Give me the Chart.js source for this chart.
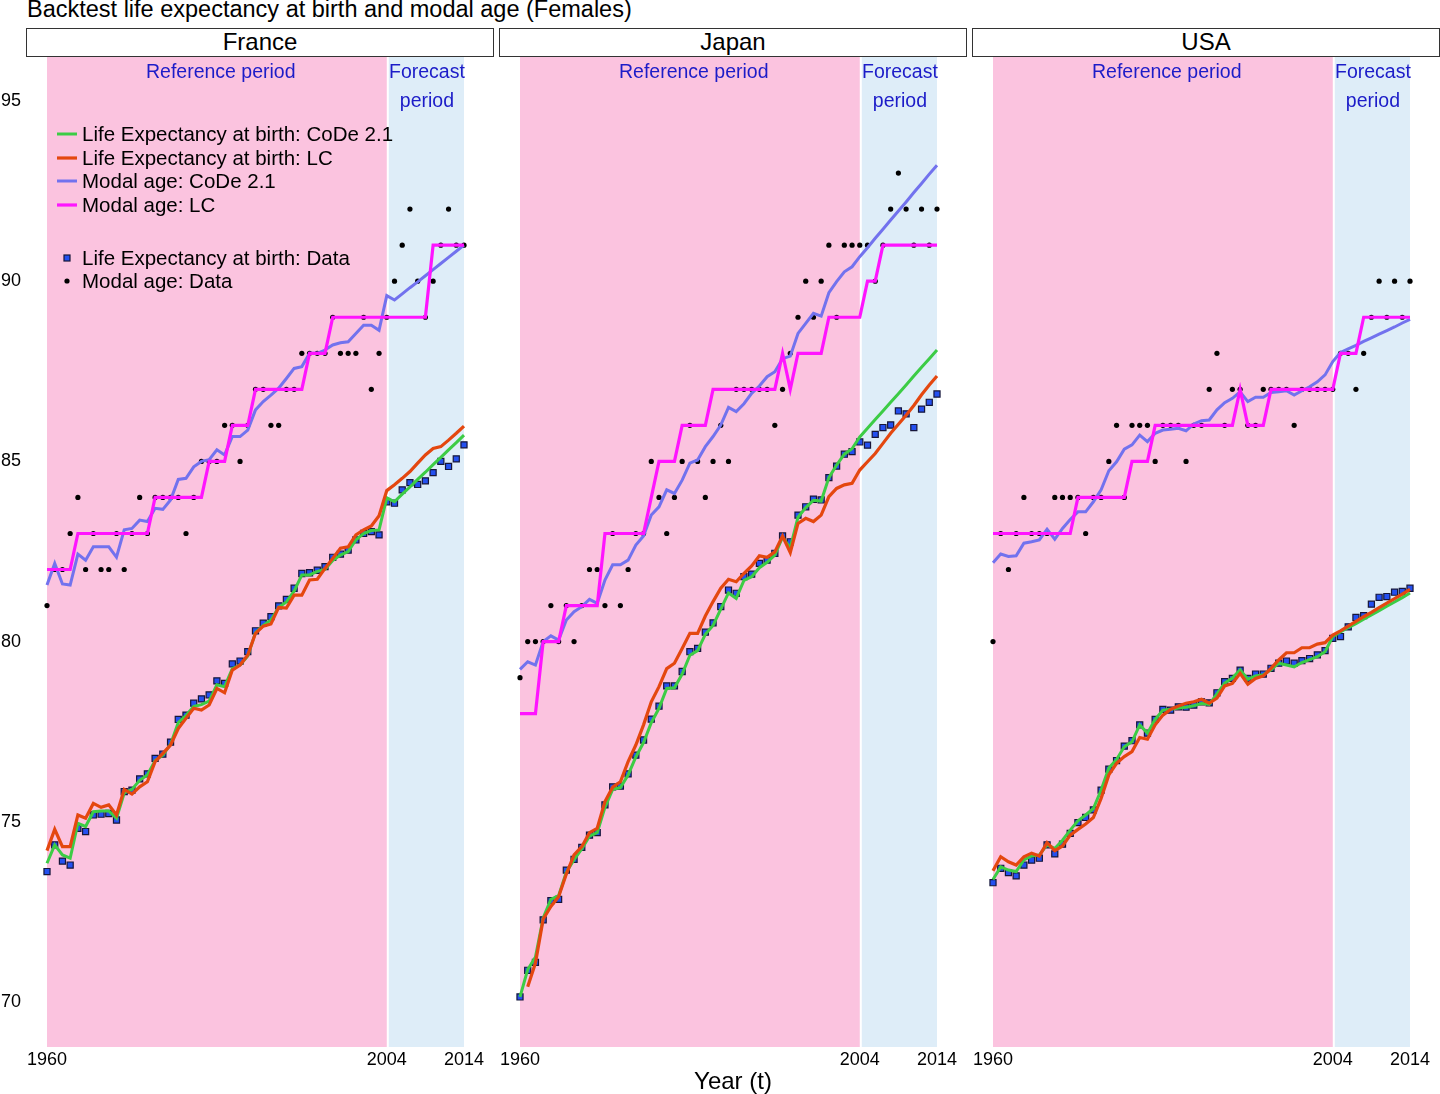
<!DOCTYPE html>
<html><head><meta charset="utf-8">
<script src="https://cdn.jsdelivr.net/npm/chart.js@4.4.1/dist/chart.umd.min.js"></script>
<style>
html,body{margin:0;padding:0;background:#fff;width:1440px;height:1094px;overflow:hidden;font-family:'Liberation Sans',Arial,sans-serif;}
.abs{position:absolute;}
#title{left:27px;top:-4px;font-size:23.5px;color:#000;white-space:nowrap;}
.strip{top:28px;height:29px;width:468px;box-sizing:border-box;border:1.5px solid #333;background:#fff;text-align:center;font-size:24px;line-height:26px;color:#000;}
.panel{top:0;width:520px;height:1094px;}
#xlab{left:633px;width:200px;text-align:center;top:1067px;font-size:24px;color:#000;}
</style></head><body>
<div id="title" class="abs">Backtest life expectancy at birth and modal age (Females)</div>
<div class="abs strip" style="left:26px">France</div>
<div class="abs strip" style="left:499px">Japan</div>
<div class="abs strip" style="left:972px">USA</div>
<div class="abs panel" style="left:0px"><canvas id="c0" width="520" height="1094"></canvas></div>
<div class="abs panel" style="left:473px"><canvas id="c1" width="520" height="1094"></canvas></div>
<div class="abs panel" style="left:946px"><canvas id="c2" width="520" height="1094"></canvas></div>
<div id="xlab" class="abs">Year (t)</div>
<script>
const years = [1960,1961,1962,1963,1964,1965,1966,1967,1968,1969,
1970,1971,1972,1973,1974,1975,1976,1977,1978,1979,
1980,1981,1982,1983,1984,1985,1986,1987,1988,1989,
1990,1991,1992,1993,1994,1995,1996,1997,1998,1999,
2000,2001,2002,2003,2004,2005,2006,2007,2008,2009,
2010,2011,2012,2013,2014];
const xTicks = [1960, 2004, 2014];
const yTicks = [70, 75, 80, 85, 90, 95];
const countries = ['France', 'Japan', 'USA'];

// ---- France ----
const frLeData = [73.62,74.36,73.91,73.80,74.82,74.73,75.19,75.21,75.23,75.05,
75.84,75.88,76.19,76.33,76.76,76.88,77.21,77.84,77.96,78.29,
78.41,78.52,78.91,78.84,79.38,79.46,79.72,80.30,80.51,80.69,
80.99,81.17,81.48,81.89,81.91,81.98,82.08,82.34,82.43,82.54,
82.82,83.00,83.05,82.96,83.88,83.84,84.21,84.41,84.36,84.46,
84.69,85.00,84.86,85.07,85.46];
const frLeCode = [73.85,74.36,74.08,73.99,74.96,74.87,75.28,75.30,75.30,75.10,
75.80,75.90,76.15,76.30,76.70,76.85,77.15,77.75,77.95,78.20,
78.25,78.35,78.80,78.75,79.25,79.35,79.60,80.25,80.45,80.60,
80.95,81.10,81.40,81.85,81.85,81.95,82.00,82.25,82.40,82.50,
82.82,83.00,83.08,83.10,83.99,83.88,84.09,84.29,84.50,84.70,
84.91,85.11,85.32,85.52,85.73];
const frLeLc = [74.20,74.79,74.31,74.31,75.19,75.10,75.51,75.40,75.47,75.19,
75.90,75.77,75.97,76.11,76.67,76.90,77.13,77.59,77.87,78.15,
78.10,78.24,78.70,78.58,79.21,79.35,79.63,80.23,80.43,80.49,
80.95,80.93,81.29,81.29,81.71,81.73,82.03,82.31,82.59,82.63,
82.96,83.10,83.21,83.49,84.19,84.35,84.53,84.72,84.95,85.18,
85.36,85.41,85.59,85.78,85.98];
const frModalData = [81,82,82,83,84,82,83,82,82,83,
82,83,84,83,84,84,84,84,83,84,
85,85,85,86,86,85,86,87,87,86,
86,87,87,88,88,88,88,89,88,88,
88,89,87,88,89,90,91,92,90,89,
90,91,92,91,91];
const frModalLc = [82,82,82,82,83,83,83,83,83,83,
83,83,83,83,84,84,84,84,84,84,
84,85,85,85,86,86,86,87,87,87,
87,87,87,87,88,88,88,89,89,89,
89,89,89,89,89,89,89,89,89,89,
91,91,91,91,91];
const frModalCode = [81.57,82.17,81.60,81.57,82.43,82.26,82.63,82.63,82.63,82.34,
83.10,83.14,83.37,83.33,83.70,83.67,83.93,84.50,84.53,84.85,
85.00,85.05,85.32,85.18,85.69,85.69,85.87,86.43,86.66,86.84,
87.03,87.30,87.58,87.63,88.00,88.00,88.09,88.23,88.29,88.32,
88.55,88.78,88.78,88.64,89.60,89.48,89.65,89.82,89.98,90.15,
90.32,90.49,90.66,90.83,91.00];

// ---- Japan ----
const jpLeData = [70.14,70.88,71.10,72.28,72.81,72.85,73.66,73.96,74.29,74.63,
74.70,75.47,75.97,75.99,76.33,76.85,77.27,77.85,78.21,78.77,
78.77,79.17,79.72,79.81,80.26,80.52,80.97,81.43,81.34,81.80,
81.87,82.17,82.26,82.45,82.93,82.77,83.51,83.74,83.95,83.93,
84.55,84.87,85.20,85.27,85.54,85.45,85.75,85.94,86.01,86.40,
86.32,85.94,86.45,86.64,86.87];
const jpLeCode = [70.14,70.90,71.25,72.33,72.85,72.95,73.60,73.95,74.25,74.60,
74.70,75.40,75.90,75.95,76.30,76.80,77.20,77.75,78.15,78.70,
78.72,79.10,79.62,79.75,80.20,80.45,80.90,81.35,81.20,81.70,
81.80,82.05,82.20,82.40,82.90,82.60,83.45,83.72,83.92,83.90,
84.55,84.90,85.20,85.35,85.68,85.92,86.16,86.40,86.64,86.88,
87.12,87.37,87.61,87.85,88.09];
const jpLeLc = [null,70.42,71.08,72.30,72.65,72.92,73.55,74.08,74.31,74.70,
74.82,75.56,75.96,76.11,76.67,77.13,77.69,78.33,78.75,79.25,
79.40,79.81,80.23,80.23,80.71,81.11,81.48,81.73,81.66,81.89,
82.10,82.38,82.34,82.49,82.93,82.47,83.28,83.42,83.33,83.51,
84.02,84.25,84.35,84.39,84.76,84.99,85.22,85.50,85.78,86.03,
86.28,86.55,86.85,87.12,87.37];
const jpModalData = [79,80,80,80,81,80,81,80,81,82,
82,81,83,81,82,83,83,85,84,83,
84,85,86,85,84,85,86,85,87,87,
87,87,87,86,87,88,89,90,89,90,
91,89,91,91,91,91,90,91,92,93,
92,91,92,91,92];
const jpModalLc = [78,78,78,80,80,80,81,81,81,81,
81,83,83,83,83,83,83,84,85,85,
85,86,86,86,86,87,87,87,87,87,
87,87,87,87,88,87,88,88,88,88,
89,89,89,89,89,90,90,91,91,91,
91,91,91,91,91];
const jpModalCode = [79.23,79.44,79.35,80.00,80.16,80.04,80.60,80.83,80.97,81.17,
81.06,81.71,82.13,82.13,82.26,82.68,82.93,83.51,83.74,84.21,
84.11,84.48,84.95,85.04,85.41,85.69,86.01,86.50,86.38,86.60,
86.89,87.09,87.35,87.49,87.85,87.92,88.55,88.83,89.11,89.03,
89.68,89.99,90.26,90.40,90.68,90.93,91.19,91.44,91.70,91.95,
92.20,92.46,92.71,92.97,93.22];

// ---- USA ----
const usLeData = [73.31,73.71,73.59,73.50,73.80,73.94,73.99,74.36,74.11,74.38,
74.68,74.98,75.12,75.33,75.88,76.46,76.70,77.10,77.25,77.69,
77.46,77.84,78.12,78.10,78.19,78.18,78.24,78.33,78.30,78.58,
78.89,78.98,79.21,78.98,79.10,79.10,79.26,79.40,79.46,79.40,
79.47,79.53,79.63,79.75,80.09,80.14,80.41,80.67,80.72,81.04,
81.23,81.25,81.37,81.39,81.48];
const usLeCode = [73.40,73.75,73.66,73.62,73.94,74.05,74.08,74.36,74.26,74.49,
74.77,75.03,75.19,75.37,75.88,76.49,76.73,77.08,77.22,77.69,
77.46,77.84,78.10,78.12,78.16,78.18,78.22,78.28,78.26,78.55,
78.85,78.99,79.22,78.96,79.05,79.08,79.22,79.40,79.35,79.30,
79.42,79.50,79.58,79.72,80.14,80.27,80.39,80.50,80.62,80.74,
80.86,80.98,81.10,81.22,81.35];
const usLeLc = [73.64,74.03,73.89,73.80,74.03,74.13,74.05,74.42,74.20,74.33,
74.63,74.79,74.94,75.12,75.65,76.30,76.62,76.81,76.95,77.34,
77.29,77.69,77.96,78.12,78.21,78.29,78.33,78.40,78.29,78.43,
78.77,78.84,79.12,78.82,78.98,79.05,79.26,79.49,79.69,79.69,
79.83,79.83,79.93,79.97,80.18,80.30,80.43,80.56,80.69,80.81,
80.94,81.07,81.19,81.32,81.45];
const usModalData = [80,83,82,83,84,83,83,83,84,84,
84,84,83,84,84,85,86,84,86,86,
86,85,86,86,86,85,86,86,87,88,
86,87,87,86,86,87,87,87,87,86,
87,87,87,87,87,88,88,87,88,89,
90,89,90,89,90];
const usModalLc = [83,83,83,83,83,83,83,83,83,83,
83,84,84,84,84,84,84,84,85,85,
85,86,86,86,86,86,86,86,86,86,
86,86,87,86,86,86,87,87,87,87,
87,87,87,87,87,88,88,88,89,89,
89,89,89,89,89];
const usModalCode = [82.19,82.43,82.36,82.38,82.73,82.77,82.82,83.12,82.84,83.14,
83.39,83.60,83.60,83.88,84.21,84.74,84.99,85.34,85.46,85.73,
85.55,85.78,85.87,85.89,85.92,85.85,86.04,86.13,86.15,86.43,
86.63,86.75,86.93,86.66,86.78,86.78,86.91,86.93,86.96,86.84,
86.96,87.07,87.21,87.40,87.77,88.02,88.12,88.22,88.33,88.43,
88.53,88.63,88.73,88.84,88.94];

const seriesByCountry = [
  {leData: frLeData, leCode: frLeCode, leLc: frLeLc, modalData: frModalData, modalLc: frModalLc, modalCode: frModalCode},
  {leData: jpLeData, leCode: jpLeCode, leLc: jpLeLc, modalData: jpModalData, modalLc: jpModalLc, modalCode: jpModalCode},
  {leData: usLeData, leCode: usLeCode, leLc: usLeLc, modalData: usModalData, modalLc: usModalLc, modalCode: usModalCode}
];

const FONT = "'Liberation Sans', Arial, sans-serif";
const C = {green:'#3ccc45', red:'#e4470f', blue:'#7272ee', magenta:'#ff14ff', sq:'#2450f0', sqBorder:'#16163a', dot:'#000000',
  pink:'#fbc3df', lightBlue:'#deedf8', periodText:'#1c1cc8'};

const REF_START = 1960, REF_END = 2004, FC_END = 2014;
const X_MIN = 1957.2806, X_MAX = 2017.7556, Y_MIN = 68.7514, Y_MAX = 96.2209;

const toPts = arr => years.map((yr, i) => ({x: yr, y: arr[i]}));

const bandsPlugin = {
  id: 'bands',
  beforeDatasetsDraw(chart) {
    const {ctx, chartArea: a, scales: {x, y}} = chart;
    const x0 = x.getPixelForValue(REF_START), x1 = x.getPixelForValue(REF_END), x2 = x.getPixelForValue(FC_END);
    ctx.save();
    ctx.fillStyle = C.pink;
    ctx.fillRect(x0, a.top, x1 - x0, a.bottom - a.top);
    ctx.fillStyle = C.lightBlue;
    ctx.fillRect(x1 + 2, a.top, x2 - x1 - 2, a.bottom - a.top);
    ctx.fillStyle = C.periodText;
    ctx.font = '19.5px ' + FONT;
    ctx.textAlign = 'center';
    ctx.textBaseline = 'middle';
    ctx.fillText('Reference period', x.getPixelForValue(1982.5), y.getPixelForValue(95.78));
    ctx.fillText('Forecast', x.getPixelForValue(2009.2), y.getPixelForValue(95.78));
    ctx.fillText('period', x.getPixelForValue(2009.2), y.getPixelForValue(94.98));
    ctx.restore();
  }
};

const legendRows = [
  {key: 'leCode', dy: 77}, {key: 'leLc', dy: 101}, {key: 'modalCode', dy: 124}, {key: 'modalLc', dy: 148},
  {key: 'leData', dy: 201}, {key: 'modalData', dy: 224}
];
const legendPlugin = {
  id: 'customLegend',
  afterDraw(chart, args, opts) {
    if (!opts.show) return;
    const {ctx, chartArea: a} = chart;
    ctx.save();
    ctx.font = '20.5px ' + FONT;
    ctx.textBaseline = 'middle';
    ctx.textAlign = 'left';
    legendRows.forEach(r => {
      const ds = chart.data.datasets.find(d => d.key === r.key);
      const yy = a.top + r.dy;
      const xl = a.left + 31;
      if (ds.showLine === false) {
        if (ds.pointStyle === 'rect') {
          ctx.fillStyle = ds.pointBackgroundColor;
          ctx.strokeStyle = ds.pointBorderColor;
          ctx.lineWidth = 1.2;
          ctx.fillRect(xl + 7, yy - 3, 6, 6);
          ctx.strokeRect(xl + 7, yy - 3, 6, 6);
        } else {
          ctx.fillStyle = ds.pointBackgroundColor;
          ctx.beginPath(); ctx.arc(xl + 10, yy, 2.6, 0, Math.PI * 2); ctx.fill();
        }
      } else {
        ctx.strokeStyle = ds.borderColor;
        ctx.lineWidth = ds.borderWidth;
        ctx.beginPath(); ctx.moveTo(xl, yy); ctx.lineTo(xl + 20, yy); ctx.stroke();
      }
      ctx.fillStyle = '#000';
      ctx.fillText(ds.label, xl + 25, yy + 1);
    });
    ctx.restore();
  }
};

function makePanel(idx) {
  const s = seriesByCountry[idx];
  const first = idx === 0;
  const datasets = [
    {key: 'modalLc', label: 'Modal age: LC', data: toPts(s.modalLc), borderColor: C.magenta, borderWidth: 3.2, pointRadius: 0, order: 0},
    {key: 'modalCode', label: 'Modal age: CoDe 2.1', data: toPts(s.modalCode), borderColor: C.blue, borderWidth: 3, pointRadius: 0, order: 1},
    {key: 'leLc', label: 'Life Expectancy at birth: LC', data: toPts(s.leLc), borderColor: C.red, borderWidth: 3.2, pointRadius: 0, order: 2},
    {key: 'leCode', label: 'Life Expectancy at birth: CoDe 2.1', data: toPts(s.leCode), borderColor: C.green, borderWidth: 3, pointRadius: 0, order: 3},
    {key: 'modalData', label: 'Modal age: Data', data: toPts(s.modalData), showLine: false, pointStyle: 'circle', pointRadius: 2.6,
      pointBackgroundColor: C.dot, pointBorderColor: C.dot, pointBorderWidth: 0, order: 4},
    {key: 'leData', label: 'Life Expectancy at birth: Data', data: toPts(s.leData), showLine: false, pointStyle: 'rect', pointRadius: 4.3,
      pointBackgroundColor: C.sq, pointBorderColor: C.sqBorder, pointBorderWidth: 1.2, order: 5}
  ];
  datasets.forEach(d => { d.fill = false; d.tension = 0; d.spanGaps = false; d.backgroundColor = d.borderColor || d.pointBackgroundColor; });
  return new Chart(document.getElementById('c' + idx), {
    type: 'line',
    data: {datasets},
    options: {
      responsive: false, animation: false, events: [],
      layout: {padding: {top: 57, left: 0, right: 27, bottom: 0}},
      plugins: {legend: {display: false}, tooltip: {enabled: false}, customLegend: {show: first}},
      scales: {
        x: {type: 'linear', min: X_MIN, max: X_MAX,
          grid: {display: false, drawTicks: false}, border: {display: false},
          afterBuildTicks: sc => { sc.ticks = xTicks.map(v => ({value: v})); },
          afterFit: sc => { sc.height = 47; sc.paddingLeft = 0; sc.paddingRight = 0; },
          ticks: {font: {family: FONT, size: 18}, color: '#000', padding: 2, maxRotation: 0, autoSkip: false,
            callback: v => String(v)}},
        y: {type: 'linear', min: Y_MIN, max: Y_MAX, display: true,
          grid: {display: false, drawTicks: false}, border: {display: false},
          afterBuildTicks: sc => { sc.ticks = yTicks.map(v => ({value: v})); },
          afterFit: sc => { sc.width = 26; },
          ticks: {display: first, font: {family: FONT, size: 18}, color: '#000', padding: 5, callback: v => String(v)}}
      }
    },
    plugins: [bandsPlugin, legendPlugin]
  });
}
countries.forEach((c, i) => makePanel(i));
</script>
</body></html>
